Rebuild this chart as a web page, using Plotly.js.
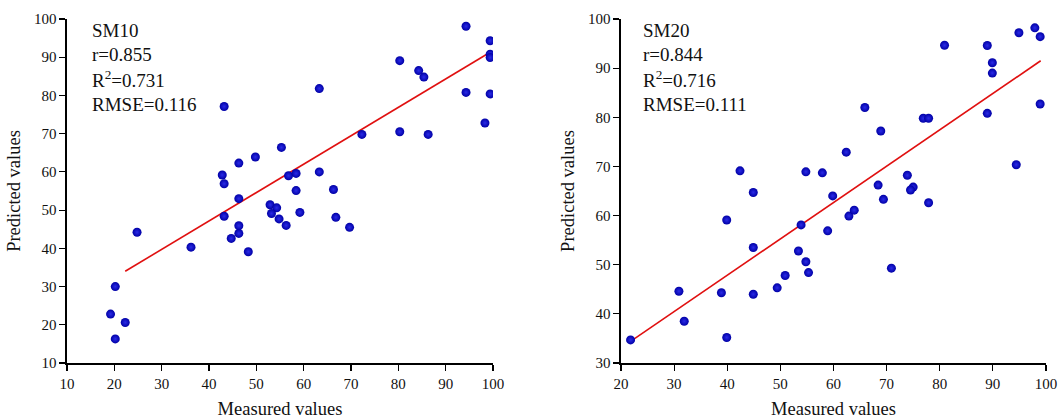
<!DOCTYPE html>
<html>
<head>
<meta charset="utf-8">
<script src="https://cdn.plot.ly/plotly-3.0.1.min.js"></script>
<style>html,body{margin:0;padding:0;background:#fff;}#chart{width:1058px;height:419px;}</style>
</head>
<body>
<div id="chart"></div>
<script>
// SM10 panel
var sm10Measured = [43.2,24.8,36.2,20.2,19.2,22.3,20.2,42.8,43.2,46.3,49.8,55.3,46.3,43.2,46.3,46.3,44.7,48.3,52.9,54.3,53.2,54.8,56.3,56.8,58.4,58.4,59.2,63.3,63.3,66.3,66.8,69.7,72.3,80.3,80.3,84.3,85.4,86.3,94.3,94.3,98.3,99.4,99.4,99.4,99.4];
var sm10Predicted = [77.1,44.2,40.3,30.0,22.8,20.6,16.3,59.2,56.9,62.3,63.9,66.4,53.0,48.4,45.9,43.9,42.6,39.1,51.4,50.6,49.1,47.7,46.0,59.0,59.6,55.1,49.4,81.8,60.0,55.4,48.1,45.5,69.8,89.1,70.5,86.5,84.8,69.8,98.1,80.8,72.8,94.3,90.8,89.9,80.4];
var sm10FitX = [22.3, 99.4];
var sm10FitY = [34.0, 91.3];
var sm10Stats = ["SM10", "r=0.855", "R<sup>2</sup>=0.731", "RMSE=0.116"];

// SM20 panel
var sm20Measured = [21.8,30.9,31.9,38.9,39.9,39.9,42.4,44.9,44.9,44.9,49.4,50.9,53.4,53.9,54.8,54.8,55.3,57.9,59.85,58.9,62.4,62.9,63.9,65.9,68.4,68.9,69.4,70.9,73.9,75.0,74.5,76.9,77.9,77.9,80.9,88.95,89.9,89.9,88.95,94.4,94.9,97.9,98.9,98.9];
var sm20Predicted = [34.7,44.6,38.5,44.3,35.2,59.1,69.1,64.7,53.5,44.0,45.3,47.8,52.8,58.1,68.9,50.6,48.4,68.7,64.0,56.9,72.9,59.9,61.1,82.0,66.2,77.2,63.3,49.3,68.2,65.8,65.2,79.8,79.8,62.6,94.65,94.6,91.1,89.0,80.8,70.35,97.2,98.2,96.4,82.7];
var sm20FitX = [21.8, 99.0];
var sm20FitY = [34.4, 91.5];
var sm20Stats = ["SM20", "r=0.844", "R<sup>2</sup>=0.716", "RMSE=0.111"];

var xTicks1 = [10,20,30,40,50,60,70,80,90,100];
var yTicks1 = [10,20,30,40,50,60,70,80,90,100];
var xTicks2 = [20,30,40,50,60,70,80,90,100];
var yTicks2 = [30,40,50,60,70,80,90,100];

var FONT = "Liberation Serif, Times New Roman, serif";
var markerStyle = {size: 9, color: '#0000a6', line: {width: 0}, gradient: {type: 'radial', color: '#2a2ae6'}};
var lineStyle = {color: '#e01010', width: 1.6};

var traces = [
  {x: sm10FitX, y: sm10FitY, mode: 'lines', line: lineStyle, xaxis: 'x', yaxis: 'y', hoverinfo: 'skip'},
  {x: sm10Measured, y: sm10Predicted, mode: 'markers', marker: markerStyle, xaxis: 'x', yaxis: 'y'},
  {x: sm20FitX, y: sm20FitY, mode: 'lines', line: lineStyle, xaxis: 'x2', yaxis: 'y2', hoverinfo: 'skip'},
  {x: sm20Measured, y: sm20Predicted, mode: 'markers', marker: markerStyle, xaxis: 'x2', yaxis: 'y2'}
];

function axis(domain, range, ticks, anchor, title, standoff) {
  return {
    domain: domain, range: range, tickvals: ticks, ticktext: ticks.map(String),
    anchor: anchor, showgrid: false, zeroline: false, showline: true,
    linecolor: '#000', linewidth: 1.6, ticks: 'outside', ticklen: 6, tickwidth: 1.2, tickcolor: '#000',
    tickfont: {family: FONT, size: 15, color: '#111'},
    title: {text: title, font: {family: FONT, size: 18.5, color: '#111'}, standoff: standoff},
    fixedrange: true
  };
}

var annotations = [];
function addStats(stats, xpos) {
  var ys = [30, 54, 79, 104];
  stats.forEach(function(s, i) {
    annotations.push({
      text: s, xref: 'paper', yref: 'paper', x: xpos, y: 1 - ys[i] / 419,
      xanchor: 'left', yanchor: 'middle', showarrow: false,
      font: {family: FONT, size: 19, color: '#111'}
    });
  });
}
addStats(sm10Stats, 90 / 1058);
addStats(sm20Stats, 641 / 1058);

var layout = {
  width: 1058, height: 419,
  margin: {l: 0, r: 0, t: 0, b: 0},
  paper_bgcolor: '#fff', plot_bgcolor: '#fff',
  showlegend: false,
  xaxis: axis([67/1058, 493/1058], [10, 100], xTicks1, 'y', 'Measured values', 14),
  yaxis: axis([56/419, 400/419], [10, 100], yTicks1, 'x', 'Predicted values', 8),
  xaxis2: axis([621/1058, 1046/1058], [20, 100], xTicks2, 'y2', 'Measured values', 14),
  yaxis2: axis([56/419, 400/419], [30, 100], yTicks2, 'x2', 'Predicted values', 8),
  annotations: annotations
};

Plotly.newPlot('chart', traces, layout, {displayModeBar: false, staticPlot: true});
</script>
</body>
</html>
